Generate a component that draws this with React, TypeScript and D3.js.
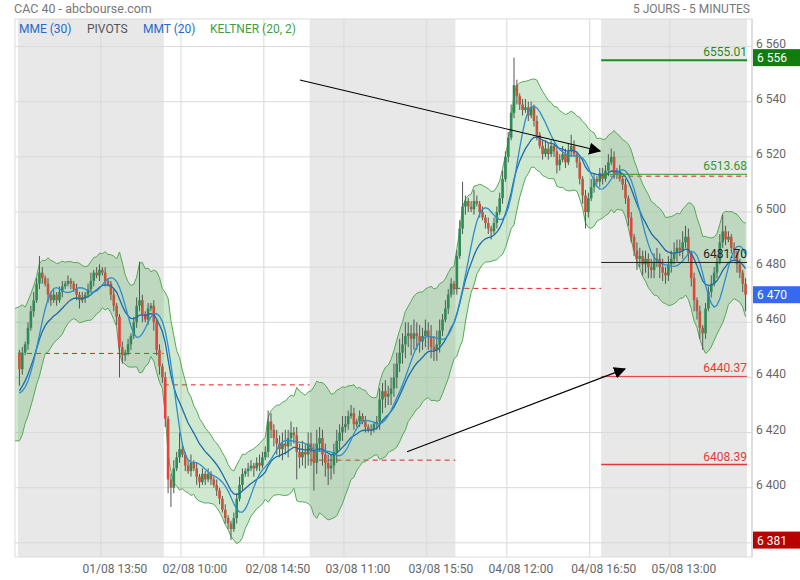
import React from 'react';
import * as d3 from 'd3';

// ---- Data (10-minute candles, 51 per session, 5 sessions) ----
const closesDay1 = [
  6443, 6449, 6452, 6458, 6464, 6468, 6474, 6478, 6476, 6474,
  6470, 6468, 6470, 6468, 6471, 6473, 6474, 6475, 6474, 6472,
  6470, 6468, 6469, 6470, 6472, 6475, 6478, 6477, 6479, 6478,
  6475, 6474, 6470, 6466, 6462, 6451, 6448, 6449, 6452, 6455,
  6460, 6466, 6468, 6463, 6461, 6465, 6466, 6460, 6450, 6444,
  6440,
];
const closesDay2 = [
  6425, 6403, 6400, 6407, 6411, 6414, 6412, 6408, 6406, 6409,
  6407, 6404, 6402, 6405, 6403, 6405, 6403, 6401, 6399, 6396,
  6392, 6389, 6387, 6385, 6389, 6396, 6401, 6405, 6406, 6407,
  6408, 6407, 6409, 6408, 6411, 6413, 6424, 6421, 6418, 6416,
  6414, 6416, 6415, 6418, 6420, 6419, 6413, 6411, 6413, 6412,
  6416,
];
const closesDay3 = [
  6413, 6409, 6416, 6418, 6412, 6409, 6407, 6408, 6413, 6417,
  6420, 6422, 6423, 6426, 6427, 6423, 6424, 6426, 6424, 6422,
  6421, 6421, 6423, 6424, 6432, 6435, 6433, 6434, 6436, 6440,
  6445, 6449, 6452, 6455, 6456, 6454, 6456, 6455, 6453, 6455,
  6457, 6455, 6451, 6450, 6452, 6457, 6461, 6465, 6470, 6474,
  6472,
];
const closesDay4 = [
  6484, 6494, 6502, 6504, 6502, 6501, 6504, 6503, 6500, 6498,
  6496, 6494, 6493, 6496, 6500, 6505, 6512, 6520, 6527, 6536,
  6546, 6542, 6539, 6537, 6538, 6535, 6538, 6533, 6528, 6524,
  6521, 6523, 6521, 6524, 6522, 6517, 6519, 6521, 6518, 6522,
  6524, 6521, 6518, 6512, 6506, 6500, 6505, 6509, 6512, 6511,
  6514,
];
const closesDay5 = [
  6512, 6515, 6518, 6520, 6514, 6515, 6512, 6510, 6505, 6498,
  6491, 6486, 6483, 6484, 6481, 6483, 6480, 6479, 6482, 6483,
  6480, 6478, 6477, 6481, 6483, 6485, 6487, 6486, 6489, 6491,
  6485, 6476, 6468, 6464, 6458, 6456, 6465, 6471, 6474, 6478,
  6482, 6489, 6493, 6490, 6491, 6487, 6485, 6481, 6478, 6474,
  6470,
];

// upper / lower wick lengths (points above/below the body)
const wickUpDay1 = [1,2,1,2,2,3,2,6,2,1, 2,1,2,1,2,2,1,2,1,1, 2,1,2,1,2,3,1,2,2,1, 2,1,1,2,1,1,2,1,2,1, 2,3,14,2,1,2,1,2,1,2, 1];
const wickDnDay1 = [6,2,1,2,1,2,1,2,2,1, 3,2,1,2,1,2,1,1,2,1, 2,3,1,2,1,1,2,1,2,1, 2,1,2,2,3,11,3,2,1,2, 1,2,2,3,1,2,1,3,2,3, 2];
const wickUpDay2 = [2,1,2,3,2,6,2,1,2,3, 1,2,1,2,1,2,1,1,2,1, 1,2,1,1,2,2,3,2,1,2, 2,1,2,3,2,2,4,3,2,3, 3,4,5,3,4,2,3,3,4,3, 4];
const wickDnDay2 = [3,5,7,2,1,2,1,2,1,2, 1,3,2,1,2,1,2,1,2,2, 1,2,2,4,1,2,1,2,1,2, 1,3,1,2,1,1,2,3,3,4, 3,4,3,4,3,3,10,4,3,5, 4];
const wickUpDay3 = [4,3,5,4,3,4,3,4,3,4, 3,4,3,2,3,2,1,2,1,2, 1,2,1,2,4,3,4,3,4,5, 4,5,4,5,4,3,5,4,4,3, 4,3,4,4,5,4,2,3,2,2, 1];
const wickDnDay3 = [5,10,4,3,4,5,6,4,3,4, 3,3,2,2,1,2,1,2,1,2, 1,2,1,2,3,5,4,3,4,3, 4,3,4,5,4,6,4,5,4,3, 4,5,4,4,4,3,2,1,2,1, 2];
const wickUpDay4 = [2,3,9,2,1,2,4,2,1,2, 1,2,1,2,2,2,3,2,2,3, 10,2,1,2,3,2,2,1,2,1, 2,3,2,2,1,2,2,3,2,3, 4,2,1,2,1,2,2,3,2,1, 2];
const wickDnDay4 = [2,1,2,3,2,1,2,1,2,1, 2,2,3,1,2,1,2,1,2,1, 2,3,2,2,1,2,1,2,2,1, 2,1,2,1,2,3,2,1,2,1, 2,1,2,2,3,6,2,1,2,1, 2];
const wickUpDay5 = [2,2,3,3,2,1,2,1,2,1, 2,1,3,3,2,3,2,3,3,4, 2,3,2,3,3,4,3,3,4,4, 3,1,2,1,2,1,2,2,3,2, 2,3,6,2,2,1,2,1,2,1, 2];
const wickDnDay5 = [2,1,2,1,2,2,1,2,2,3, 2,2,4,3,4,3,4,3,3,2, 4,3,3,2,3,2,3,2,3,2, 3,3,4,3,4,6,2,1,2,1, 2,1,2,2,1,2,2,3,2,3, 6];

const prevCloses = [6448.7, 6437.3, 6410.0, 6472.3, 6513.0];
const pivotLevels = [6555.01, 6513.68, 6481.70, 6440.37, 6408.39];
const pivotLabels = ['6555.01', '6513.68', '6481.70', '6440.37', '6408.39'];
const pivotColors = ['#1e8c1e', '#2e9a2e', '#222222', '#e53935', '#e53935'];
const pivotWidths = [2, 1, 1, 1, 1.5];

const xTickLabels = ['01/08 13:50', '02/08 10:00', '02/08 14:50', '03/08 11:00', '03/08 15:50', '04/08 12:00', '04/08 16:50', '05/08 13:00'];
const yTicks = [6380, 6400, 6420, 6440, 6460, 6480, 6500, 6520, 6540, 6560];
const legendLabels = ['MME (30)', 'PIVOTS', 'MMT (20)', 'KELTNER (20, 2)'];
const legendColors = ['#1f6bd0', '#555555', '#1f6bd0', '#3f9f3f'];
const legendX = [19, 87, 143, 210];

const keltnerSeedMid = 6441;
const keltnerSeedHalf = 24;
const maSeed = 6434;

// annotation arrows (bar index, price)
const arrowFrom = [[98.6, 6547.9], [136.1, 6413.0]];
const arrowTo = [[203.6, 6522.1], [212.3, 6443.1]];

const BARS_PER_DAY = 51;
const BAR_MIN = 10;

const closes = [...closesDay1, ...closesDay2, ...closesDay3, ...closesDay4, ...closesDay5];
const wUp = [...wickUpDay1, ...wickUpDay2, ...wickUpDay3, ...wickUpDay4, ...wickUpDay5];
const wDn = [...wickDnDay1, ...wickDnDay2, ...wickDnDay3, ...wickDnDay4, ...wickDnDay5];

type Candle = { i: number; o: number; h: number; l: number; c: number };
const candles: Candle[] = closes.map((c, i) => {
  const o = i === 0 ? Math.round(prevCloses[0]) : closes[i - 1];
  return { i, o, c, h: Math.max(o, c) + (wUp[i] ?? 1), l: Math.min(o, c) - (wDn[i] ?? 1) };
});
const N = candles.length;

// Keltner (20 x 5min = 10 x 10min bars), 2 x ATR
const kN = 20 * 5 / BAR_MIN;
const kMult = 2;
const keltner: { i: number; mid: number; up: number; lo: number }[] = [];
{
  let mid = keltnerSeedMid;
  let atr = keltnerSeedHalf / kMult;
  keltner.push({ i: -1, mid, up: mid + kMult * atr, lo: mid - kMult * atr });
  const a = 2 / (kN + 1);
  candles.forEach((cd, i) => {
    const pc = i === 0 ? cd.o : candles[i - 1].c;
    const tr = Math.max(cd.h - cd.l, Math.abs(cd.h - pc), Math.abs(cd.l - pc));
    mid = mid + a * (cd.c - mid);
    atr = atr + a * (tr - atr);
    keltner.push({ i: i + 0.5, mid, up: mid + kMult * atr, lo: mid - kMult * atr });
  });
}

// MME (30 x 5min) exponential
const emaN = 30 * 5 / BAR_MIN;
const mme: number[] = [];
{
  let e = maSeed;
  const a = 2 / (emaN + 1);
  closes.forEach((c) => { e = e + a * (c - e); mme.push(e); });
}
// MMT (20 x 5min) triangular
const tN = 20 * 5 / BAR_MIN;
const mmt: number[] = [];
{
  const n1 = Math.ceil((tN + 1) / 2);
  const n2 = Math.floor((tN + 1) / 2);
  const get = (arr: number[], k: number) => (k < 0 ? maSeed : arr[k]);
  const sma1: number[] = [];
  for (let i = 0; i < N; i++) {
    let s = 0;
    for (let k = 0; k < n1; k++) s += get(closes, i - k);
    sma1.push(s / n1);
  }
  for (let i = 0; i < N; i++) {
    let s = 0;
    for (let k = 0; k < n2; k++) s += get(sma1, i - k);
    mmt.push(s / n2);
  }
}

const fmtSpace = (v: number) => d3.format(',')(v).replace(/,/g, ' ');

export default function App() {
  const left = 15, right = 752, top = 19, bottom = 557;
  const x = d3.scaleLinear().domain([0, N]).range([18, 747]);
  const y = d3.scaleLinear().domain([6400, 6560]).range([487.7, 46.6]);
  const bw = (x(1) - x(0)) * 0.92;

  const tickIdx = xTickLabels.map((s) => {
    const [dm, hm] = s.split(' ');
    const day = parseInt(dm.split('/')[0], 10) - 1;
    const [hh, mm] = hm.split(':').map(Number);
    return day * BARS_PER_DAY + ((hh - 9) * 60 + mm) / BAR_MIN;
  });

  const area = d3.area<any>().x((d) => x(d.i)).y0((d) => y(d.lo)).y1((d) => y(d.up));
  const lineUp = d3.line<any>().x((d) => x(d.i)).y((d) => y(d.up));
  const lineLo = d3.line<any>().x((d) => x(d.i)).y((d) => y(d.lo));
  const maLine = d3.line<number>().x((_, i) => x(i + 0.5)).y((d) => y(d));

  const days = d3.range(5);
  const hi = d3.max(candles, (d) => d.h)!;
  const lo = d3.min(candles, (d) => d.l)!;
  const last = closes[N - 1];
  const boxes = [
    { v: hi, fill: '#0f7d0f' },
    { v: last, fill: '#3469f0' },
    { v: lo, fill: '#bb0000' },
  ];

  return (
    <svg width={800} height={580} style={{ position: 'absolute', left: 0, top: 0, display: 'block', background: '#fff' }}
      fontFamily="Roboto, 'Noto Sans', sans-serif">
      <defs>
        <marker id="ah" viewBox="0 0 10 10" refX="9" refY="5" markerWidth="12" markerHeight="12" markerUnits="userSpaceOnUse" orient="auto">
          <path d="M0,0 L10,5 L0,10 z" fill="#000" />
        </marker>
        <clipPath id="plot"><rect x={left} y={top} width={right - left} height={bottom - top} /></clipPath>
      </defs>

      {/* session shading */}
      {days.filter((d) => d % 2 === 0).map((d) => (
        <rect key={'bg' + d} x={x(d * BARS_PER_DAY)} y={top} width={x((d + 1) * BARS_PER_DAY) - x(d * BARS_PER_DAY)} height={bottom - top} fill="#e8e8e8" />
      ))}

      {/* grid */}
      {yTicks.map((t) => (
        <line key={'gy' + t} x1={left} x2={right} y1={y(t)} y2={y(t)} stroke="#d9d9d9" />
      ))}
      {tickIdx.map((ti, k) => (
        <line key={'gx' + k} x1={x(ti)} x2={x(ti)} y1={top} y2={bottom} stroke="#d9d9d9" />
      ))}
      <rect x={left} y={top} width={right - left} height={bottom - top} fill="none" stroke="#dcdcdc" />

      {/* previous close dashed lines */}
      {prevCloses.map((v, d) => (
        <line key={'pc' + d} x1={x(d * BARS_PER_DAY)} x2={x((d + 1) * BARS_PER_DAY)} y1={y(v)} y2={y(v)}
          stroke="#dd2222" strokeDasharray="5,4" />
      ))}

      <g clipPath="url(#plot)">
        {/* Keltner */}
        <path d={area(keltner)!} fill="#4caf50" fillOpacity={0.27} />
        <path d={lineUp(keltner)!} fill="none" stroke="#55a855" strokeWidth={1} />
        <path d={lineLo(keltner)!} fill="none" stroke="#55a855" strokeWidth={1} />

        {/* candles */}
        {candles.map((cd) => {
          const cx = x(cd.i + 0.5);
          const up = cd.c >= cd.o;
          const big = cd.o - cd.c > 6;
          const fill = up ? '#2e8b57' : big ? '#e8413c' : '#c4553b';
          const yt = y(Math.max(cd.o, cd.c));
          const yb = y(Math.min(cd.o, cd.c));
          return (
            <g key={'c' + cd.i}>
              <line x1={cx} x2={cx} y1={y(cd.h)} y2={y(cd.l)} stroke="#555" strokeWidth={1} />
              <rect x={cx - bw / 2} y={yt} width={bw} height={Math.max(1, yb - yt)} fill={fill} />
            </g>
          );
        })}

        {/* moving averages */}
        <path d={maLine(mme)!} fill="none" stroke="#1d6aa8" strokeWidth={1.3} />
        <path d={maLine(mmt)!} fill="none" stroke="#2f8ccb" strokeWidth={1.3} />
      </g>

      {/* pivots for the last session */}
      {pivotLevels.map((v, k) => (
        <g key={'pv' + k}>
          <line x1={x(4 * BARS_PER_DAY)} x2={x(5 * BARS_PER_DAY)} y1={y(v)} y2={y(v)} stroke={pivotColors[k]} strokeWidth={pivotWidths[k]} />
          <text x={x(5 * BARS_PER_DAY)} y={y(v) - 4} textAnchor="end" fontSize={12} fill={pivotColors[k]}>{pivotLabels[k]}</text>
        </g>
      ))}

      {/* arrows */}
      {arrowFrom.map((f, k) => (
        <line key={'ar' + k} x1={x(f[0])} y1={y(f[1])} x2={x(arrowTo[k][0])} y2={y(arrowTo[k][1])}
          stroke="#000" strokeWidth={1.1} markerEnd="url(#ah)" />
      ))}

      {/* right axis */}
      <line x1={right} x2={right} y1={top} y2={bottom} stroke="#d0d0d0" />
      {yTicks.map((t) => (
        <text key={'yl' + t} x={756} y={y(t) + 1} fontSize={12} fill="#666">{fmtSpace(t)}</text>
      ))}
      {boxes.map((b, k) => (
        <g key={'bx' + k}>
          <rect x={753} y={y(b.v) - 8.5} width={47} height={17} fill={b.fill} />
          <text x={757} y={y(b.v) + 4.5} fontSize={12} fill="#fff">{fmtSpace(b.v)}</text>
        </g>
      ))}

      {/* bottom axis labels */}
      {xTickLabels.map((s, k) => (
        <text key={'xl' + k} x={x(tickIdx[k]) + 14} y={573} fontSize={12} fill="#666" textAnchor="middle">{s}</text>
      ))}

      {/* titles and legend */}
      <text x={14} y={13} fontSize={12.5} fill="#777">CAC 40 - abcbourse.com</text>
      <text x={750} y={13} fontSize={12} fill="#777" textAnchor="end">5 JOURS - 5 MINUTES</text>
      {legendLabels.map((s, k) => (
        <text key={'lg' + k} x={legendX[k]} y={33} fontSize={12} fill={legendColors[k]}>{s}</text>
      ))}
    </svg>
  );
}
